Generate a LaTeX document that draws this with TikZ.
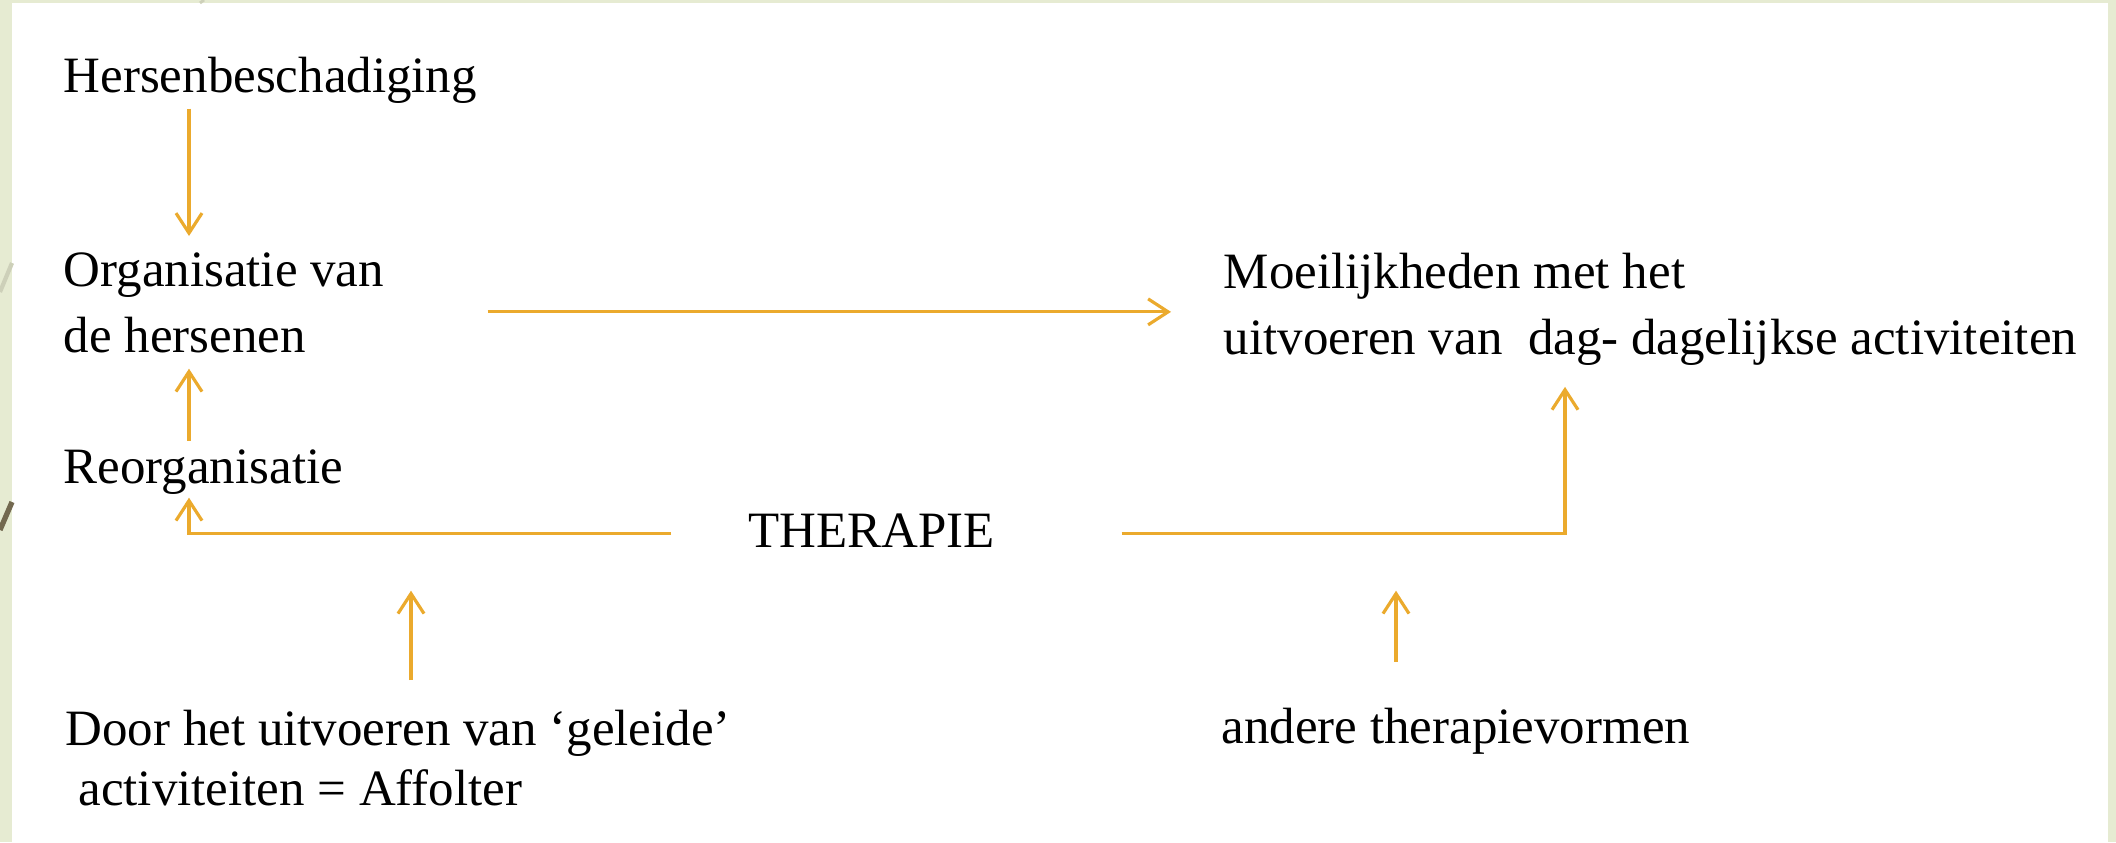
\documentclass[tikz,border=0pt]{standalone}
\usepackage{fontspec}
\setmainfont{Liberation Serif}
\usetikzlibrary{arrows.meta}

\definecolor{bggreen}{RGB}{230,235,210}
\definecolor{arrowgold}{RGB}{235,170,45}
\definecolor{slashdark}{RGB}{115,105,80}
\definecolor{slashlight}{RGB}{205,208,185}

\begin{document}
\begin{tikzpicture}[
    lbl/.style={inner sep=0pt, font=\fontsize{14.5}{18.8}\selectfont, align=left},
    arr/.style={draw=arrowgold, line width=0.9pt, -{Straight Barb[length=0.2cm,width=0.26cm]}}
  ]
    \useasboundingbox (0,0) rectangle (21.16,8.42);
    % slide background
    \fill[bggreen] (0,0) rectangle (21.16,8.42);
    \fill[white] (0.12,0) rectangle (21.08,8.39);
    \draw[slashlight, line width=1.2pt] (0,5.50) -- (0.12,5.79);
    \draw[slashdark, line width=1.5pt] (0,3.12) -- (0.12,3.40);
    \draw[slashlight, line width=0.8pt] (2.00,8.39) -- (2.04,8.42);

    % columns of the vertical arrows
    \coordinate (colA) at (1.89,0);
    \coordinate (colB) at (15.65,0);
    \coordinate (colC) at (4.11,0);
    \coordinate (colD) at (13.96,0);

    \node[lbl, anchor=base west] (hers) at (0.63,7.50) {Hersenbeschadiging};
    \node[lbl, anchor=north west] (org) at (0.63,5.90) {Organisatie van\\de hersenen};
    \node[lbl, anchor=base west] (reorg) at (0.63,3.59) {Reorganisatie};
    \node[lbl, anchor=base west] (ther) at (7.48,2.95) {THERAPIE};
    \node[lbl, anchor=north west] (moeil) at (12.23,5.90) {Moeilijkheden met het\\uitvoeren van\ \ dag- dagelijkse activiteiten};
    \node[lbl, anchor=north west, font=\fontsize{14.5}{17.1}\selectfont] (door) at (0.65,1.33) {Door het uitvoeren van ‘geleide’\\~activiteiten = Affolter};
    \node[lbl, anchor=base west] (andere) at (12.21,0.99) {andere therapievormen};

    \coordinate (mEnd) at ([xshift=-0.52cm]moeil.west);
    \coordinate (mStart) at ([xshift=1.03cm,yshift=-0.09cm]org.east);

    \draw[arr] ([yshift=-0.05cm]hers.south -| colA) -- ([yshift=0.16cm]org.north -| colA);
    \draw[arr] ([yshift=0.08cm]reorg.north -| colA) -- ([yshift=-0.15cm]org.south -| colA);
    \draw[arr] (mStart) -- (mStart -| mEnd);
    \draw[arr] ([xshift=-0.77cm,yshift=-0.03cm]ther.west) -| ([yshift=-0.03cm]reorg.south -| colA);
    \draw[arr] ([xshift=1.26cm,yshift=-0.03cm]ther.east) -| ([yshift=-0.21cm]moeil.south -| colB);
    \draw[arr] ([yshift=0.29cm]door.north -| colC) -- ([yshift=-0.43cm]ther.south -| colC);
    \draw[arr] ([yshift=0.45cm]andere.north -| colD) -- ([yshift=-0.43cm]ther.south -| colD);
\end{tikzpicture}
\end{document}
